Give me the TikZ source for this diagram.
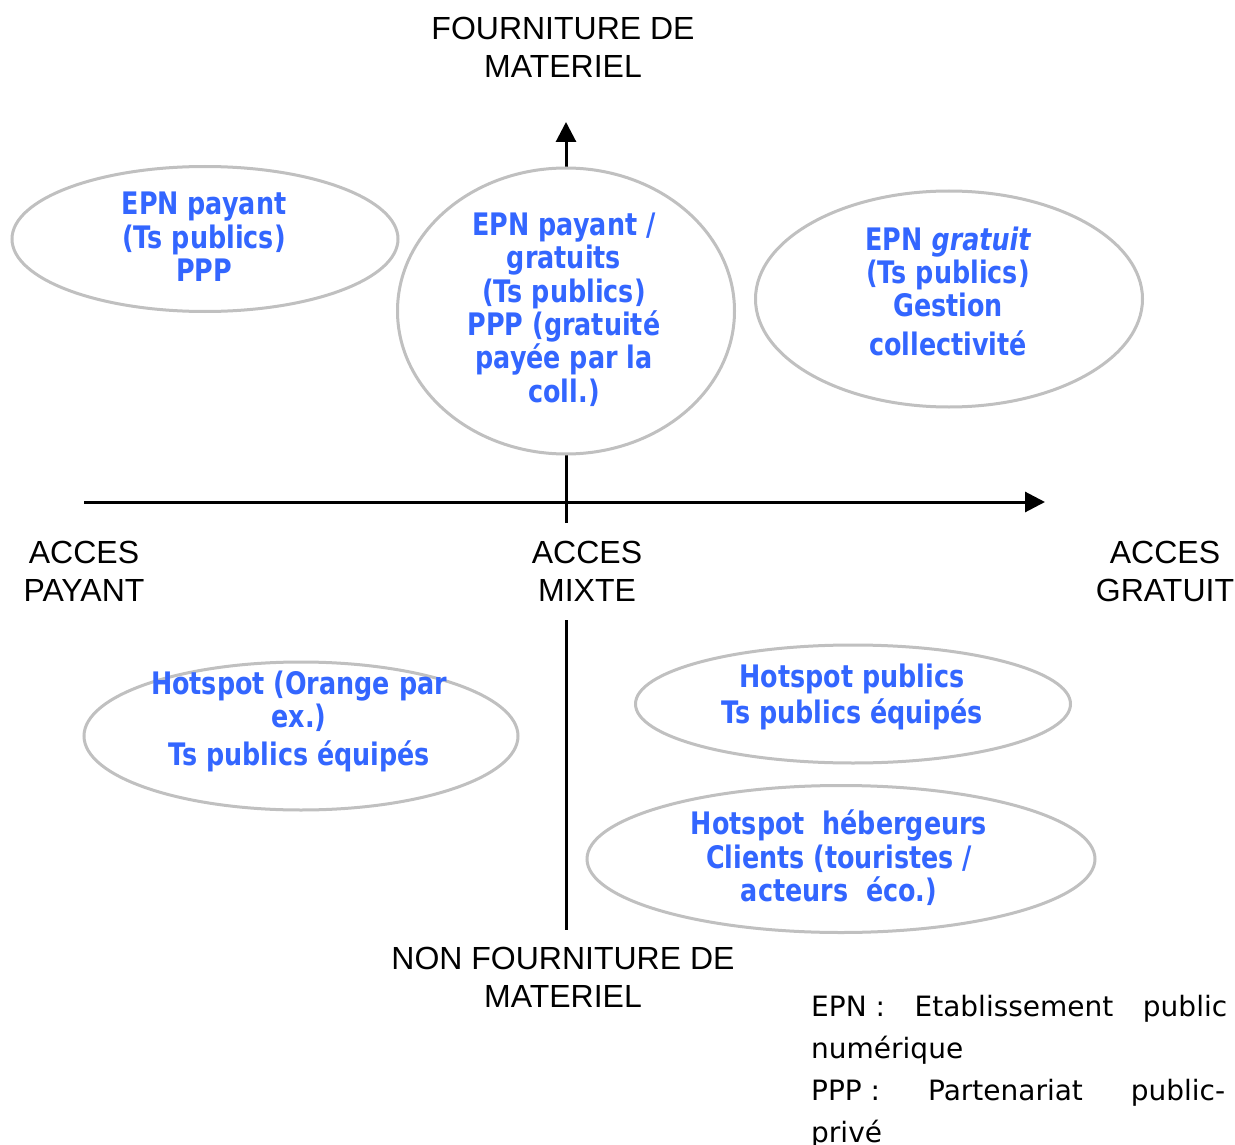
\documentclass[tikz,border=0pt]{standalone}
\usepackage{fontspec}
\setmainfont{Liberation Sans}
\newfontfamily\bluefont[FakeStretch=0.82]{DejaVu Sans}
\newfontfamily\legfont{DejaVu Sans}
\usetikzlibrary{shapes.geometric,arrows.meta}
\definecolor{bluetxt}{HTML}{3366FF}
\definecolor{ringgray}{HTML}{C0C0C0}
\begin{document}
\begin{tikzpicture}[x=1pt,y=1pt,
  ring/.style={ellipse, draw=ringgray, line width=3pt, fill=white, inner sep=0pt},
  axis/.style={line width=3pt, black},
  axtip/.style={-{Triangle[length=20pt,width=20pt]}},
  axlabel/.style={align=center, font=\fontsize{32}{38}\selectfont, inner sep=0pt},
  bluetext/.style={align=center, text=bluetxt, font=\bluefont\bfseries\fontsize{31}{33.4}\selectfont, inner sep=0pt},
  legline/.style={anchor=base west, inner sep=0pt, font=\legfont\fontsize{28}{42}\selectfont}]
\useasboundingbox (0,0) rectangle (1235,-1145);
\fill[white] (0,0) rectangle (1235,-1145);

% axes
\coordinate (ytop) at (566,-122);
\coordinate (yup) at (566,-523);
\coordinate (ydn) at (566,-620);
\coordinate (ybot) at (566,-930);
\coordinate (xl) at (84,-502);
\coordinate (xr) at (1045,-502);
\draw[axis,axtip] (yup) -- (ytop);
\draw[axis] (ydn) -- (ybot);
\draw[axis,axtip] (xl) -- (xr);

% ellipses
\node[ring, minimum width=386pt, minimum height=145pt] (e1) at (205,-239) {};
\node[ring, minimum width=337pt, minimum height=286pt] (e2) at (566,-311) {};
\node[ring, minimum width=387pt, minimum height=216pt] (e3) at (949,-299) {};
\node[ring, minimum width=434pt, minimum height=148pt] (e4) at (301,-736) {};
\node[ring, minimum width=435pt, minimum height=118pt] (e5) at (853,-704) {};
\node[ring, minimum width=508pt, minimum height=147pt] (e6) at (841,-859) {};

% ellipse texts
\node[bluetext] (t1) at (204,-237) {EPN payant\\(Ts publics)\\PPP};
\node[bluetext] (t2) at (564,-309.5) {EPN payant /\\gratuits\\(Ts publics)\\PPP (gratuité\\payée par la\\coll.)};
\node[bluetext] (t3) at (948,-291.5) {EPN {\itshape gratuit}\\(Ts publics)\\Gestion\\[5.6pt]collectivité};
\node[bluetext] (t4) at (299,-721.5) {Hotspot (Orange par\\ex.)\\[4.6pt]Ts publics équipés};
\node[bluetext] (t5) at (852,-697) {Hotspot publics\\[2.6pt]Ts publics équipés};
\node[bluetext] (t6) at (839,-858) {Hotspot\ \ hébergeurs\\Clients (touristes /\\acteurs\ \ éco.)};

% axis labels
\node[axlabel] (top) at (563,-47) {FOURNITURE DE\\MATERIEL};
\node[axlabel] (bot) at (563,-977) {NON FOURNITURE DE\\MATERIEL};
\node[axlabel] (pay) at (84,-571) {ACCES\\PAYANT};
\node[axlabel] (mix) at (587,-571) {ACCES\\MIXTE};
\node[axlabel] (gra) at (1165,-571) {ACCES\\GRATUIT};

% legend
\node[legline] (l1) at (811,-1016) {\hbox to 416pt{EPN :\hfill Etablissement\hfill public}};
\node[legline] (l2) at (811,-1058) {numérique};
\node[legline] (l3) at (811,-1100) {\hbox to 414pt{PPP :\hfill Partenariat\hfill public-}};
\node[legline] (l4) at (811,-1142) {privé};
\end{tikzpicture}
\end{document}
